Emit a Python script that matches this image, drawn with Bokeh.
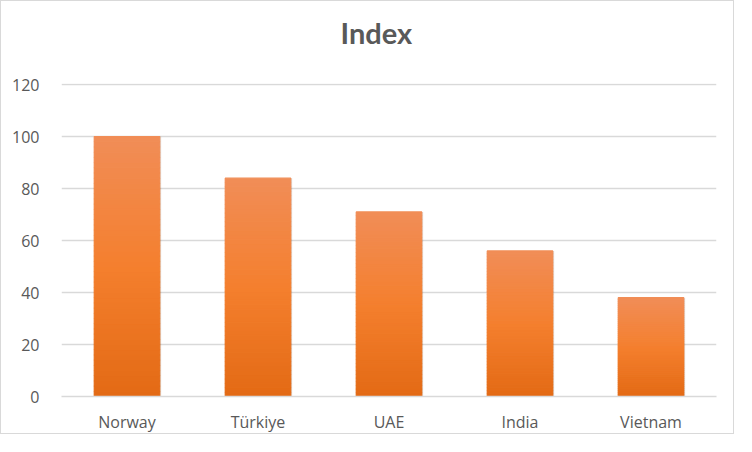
import numpy as np
from bokeh.plotting import figure
from bokeh.models import ColumnDataSource, FactorRange, Range1d, FixedTicker, Title
from bokeh.transform import dodge
from bokeh.embed import file_html
from bokeh.resources import INLINE

countries = ["Norway", "Türkiye", "UAE", "India", "Vietnam"]
index_values = [100, 84, 71, 56, 38]
y_ticks = [0, 20, 40, 60, 80, 100, 120]
chart_title = "Index"

# gradient stops (top -> middle -> bottom)
stops_pos = [0.0, 0.5, 1.0]
stops_rgb = [(241, 141, 87), (244, 127, 46), (227, 106, 20)]

def grad_color(f):
    r = np.interp(f, stops_pos, [c[0] for c in stops_rgb])
    g = np.interp(f, stops_pos, [c[1] for c in stops_rgb])
    b = np.interp(f, stops_pos, [c[2] for c in stops_rgb])
    return "#%02x%02x%02x" % (int(round(r)), int(round(g)), int(round(b)))

n_strips = 50
xs, bottoms, tops, colors = [], [], [], []
for c, v in zip(countries, index_values):
    for i in range(n_strips):
        xs.append(c)
        bottoms.append(v * i / n_strips)
        tops.append(v * (i + 1) / n_strips)
        colors.append(grad_color(1 - (i + 0.5) / n_strips))
strip_src = ColumnDataSource(dict(x=xs, bottom=bottoms, top=tops, color=colors))
bar_src = ColumnDataSource(dict(x=countries, top=index_values))

p = figure(width=734, height=434, title=None,
           x_range=FactorRange(factors=countries, range_padding=0),
           y_range=Range1d(0, 120.4),
           output_backend="svg", toolbar_location=None,
           min_border_left=60, min_border_right=19,
           min_border_top=82, min_border_bottom=30)
p.styles = {"border": "1px solid #D9D9D9"}
p.outline_line_color = None
p.background_fill_color = "white"
p.border_fill_color = "white"

spacer = Title(text=" ", text_font_size="16px")
p.add_layout(spacer, "above")
main_title = Title(text=chart_title, align="left", offset=279,
                   text_font="Lato", text_font_style="bold",
                   text_font_size="29px", text_color="#595959")
p.add_layout(main_title, "above")

p.xgrid.visible = False
p.ygrid.grid_line_color = "#D9D9D9"
p.ygrid.grid_line_width = 1.5
p.yaxis.ticker = FixedTicker(ticks=y_ticks)
p.yaxis.axis_line_color = None
p.yaxis.major_tick_line_color = None
p.yaxis.minor_tick_line_color = None
p.yaxis.major_label_standoff = 16
p.xaxis.axis_line_color = "#D9D9D9"
p.xaxis.axis_line_width = 1.5
p.xaxis.major_tick_line_color = None
p.xaxis.minor_tick_line_color = None
p.xaxis.major_label_standoff = 8
for ax in (p.xaxis, p.yaxis):
    ax.major_label_text_font = "Open Sans"
    ax.major_label_text_font_size = "16px"
    ax.major_label_text_color = "#595959"

# shadow
p.vbar(x=dodge("x", 0.006, range=p.x_range), top="top", bottom=0, width=0.51,
       source=bar_src, fill_color="#000000", fill_alpha=0.12, line_color=None)
# gradient bars
p.vbar(x="x", top="top", bottom="bottom", width=0.5, source=strip_src,
       fill_color="color", line_color="color", line_width=1.2)

open("out.html", "w").write(file_html(p, INLINE))
